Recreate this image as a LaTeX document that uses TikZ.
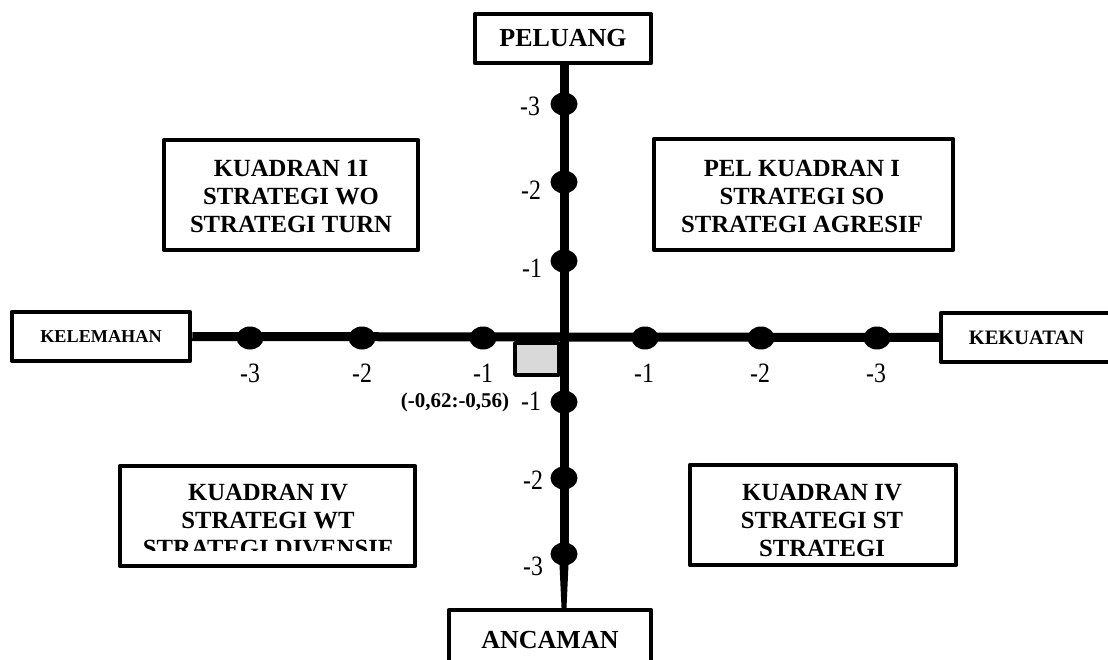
\documentclass[tikz,border=0pt]{standalone}
\usepackage{fontspec}
\setmainfont{Liberation Serif}
\usetikzlibrary{shapes.geometric,calc}
\newcommand\numtxt[1]{\scalebox{0.85}[1]{#1}}
\tikzset{
  frame/.style={draw=black, line width=4.5pt, line join=round, fill=white, inner sep=0pt},
  qtext/.style={font=\bfseries\fontsize{24.7}{28}\selectfont, align=center, inner sep=0pt},
  axtext/.style={font=\bfseries\fontsize{#1}{#1}\selectfont},
  dotnode/.style={ellipse, fill=black, minimum width=27pt, minimum height=23pt, inner sep=0pt},
  axisline/.style={line width=9pt},
  numlbl/.style={font=\fontsize{28}{28}\selectfont, inner sep=0pt},
}
\begin{document}
\begin{tikzpicture}[x=1pt,y=-1pt]
\useasboundingbox (0,0) rectangle (1108,660);
\clip (0,0) rectangle (1108,660);

% grey marker square
\node[draw=black, line width=3.5pt, line join=round, fill={rgb,255:red,217;green,217;blue,217},
      minimum width=44pt, minimum height=32pt, inner sep=0pt] (marker) at (537,359) {};

% axis end boxes
\node[frame, axtext=26, minimum width=176pt, minimum height=49pt] (peluang) at (563,38.5) {PELUANG};
\node[frame, axtext=18.2, minimum width=178pt, minimum height=49pt] (kelemahan) at (101,336.5) {KELEMAHAN};
\node[frame, axtext=20.5, minimum width=171pt, minimum height=49pt] (kekuatan) at (1026.5,337.5) {KEKUATAN};
\node[frame, axtext=26, minimum width=202pt, minimum height=60pt] (ancaman) at (550,640) {ANCAMAN};

% dots on horizontal axis
\node[dotnode] (h1) at (250,338) {};
\node[dotnode] (h2) at (362,338) {};
\node[dotnode] (h3) at (483,338) {};
\node[dotnode] (h4) at (645,338) {};
\node[dotnode] (h5) at (761,338) {};
\node[dotnode] (h6) at (877,338) {};
% dots on vertical axis
\node[dotnode] (v1) at (564,104) {};
\node[dotnode] (v2) at (564,182) {};
\node[dotnode] (v3) at (564,261) {};
\node[dotnode] (v4) at (564,402) {};
\node[dotnode] (v5) at (564,478) {};
\node[dotnode] (v6) at (564,554) {};

% axes
\draw[axisline] (kelemahan.east) -- (kekuatan.west);
\draw[axisline] (peluang.south -| v1) -- (v6.center);
\fill ($(v6.center)+(-5,0)$) -- ($(v6.center)+(5,0)$) -- ($(v6 |- ancaman.north)+(2.5,0)$) -- ($(v6 |- ancaman.north)+(-2.5,0)$) -- cycle;

% quadrant boxes
\node[frame, minimum width=254pt, minimum height=110pt] (q2box) at (291,195) {};
\node[qtext] (q2) at (291,196) {KUADRAN 1I\\STRATEGI WO\\STRATEGI TURN};
\node[frame, minimum width=299pt, minimum height=111pt] (q1box) at (803.5,194.5) {};
\node[qtext] (q1) at (802,196) {PEL KUADRAN I\\STRATEGI SO\\STRATEGI AGRESIF};
\node[frame, minimum width=295pt, minimum height=100pt] (q3box) at (267.5,516) {};
\begin{scope}
  \clip (100,455) rectangle (430,550);
  \node[qtext] (q3) at (268,520.5) {KUADRAN IV\\STRATEGI WT\\STRATEGI DIVENSIF};
\end{scope}
\node[frame, minimum width=266pt, minimum height=100pt] (q4box) at (823,515) {};
\node[qtext] (q4) at (822,520.5) {KUADRAN IV\\STRATEGI ST\\STRATEGI};

% axis numbers
\node[numlbl] (nh1) at (250,373) {\numtxt{-3}};
\node[numlbl] (nh2) at (362,373) {\numtxt{-2}};
\node[numlbl] (nh3) at (483,373) {\numtxt{-1}};
\node[numlbl] (nh4) at (644,373) {\numtxt{-1}};
\node[numlbl] (nh5) at (760,373) {\numtxt{-2}};
\node[numlbl] (nh6) at (876,373) {\numtxt{-3}};
\node[numlbl] (nv1) at (530,106) {\numtxt{-3}};
\node[numlbl] (nv2) at (531,190) {\numtxt{-2}};
\node[numlbl] (nv3) at (532,268) {\numtxt{-1}};
\node[numlbl] (nv4) at (531,401) {\numtxt{-1}};
\node[numlbl] (nv5) at (533,480) {\numtxt{-2}};
\node[numlbl] (nv6) at (533,566) {\numtxt{-3}};

% coordinate label
\node[axtext=21, inner sep=0pt] (coord) at (455,402) {(-0,62:-0,56)};
\end{tikzpicture}
\end{document}
